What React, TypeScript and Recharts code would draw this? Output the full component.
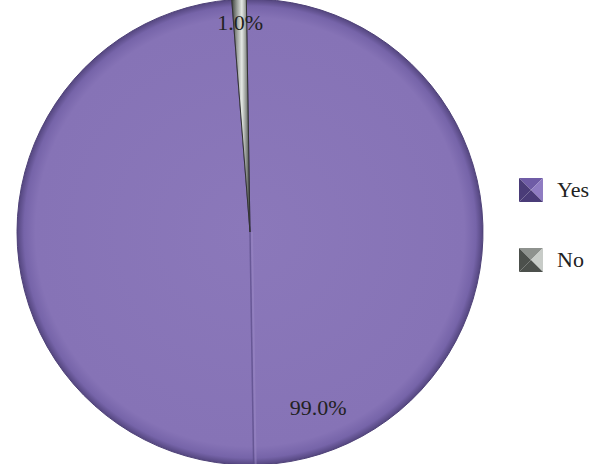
import { PieChart, Pie, Cell, Legend } from 'recharts'

const categories = ['Yes', 'No']
const shares = [99.0, 1.0]
const labels = ['99.0%', '1.0%']

const data = categories.map((name, i) => ({ name, value: shares[i], label: labels[i] }))

const FONT = '"Liberation Serif", "Times New Roman", serif'
const RAD = Math.PI / 180

function SliceLabel(props: any) {
  const { cx, cy, midAngle, outerRadius, startAngle, index } = props
  const d = data[index]
  if (d.name === 'Yes') {
    // label sits off to the right of the slice middle, like the original
    const a = (midAngle + 18.5) * RAD
    const r = outerRadius * 0.81
    const x = cx + r * Math.cos(a)
    const y = cy - r * Math.sin(a)
    // seam running through the pie (extension of the small slice edge)
    const s = (startAngle - 180) * RAD
    return (
      <g>
        <line
          x1={cx}
          y1={cy}
          x2={cx + outerRadius * Math.cos(s)}
          y2={cy - outerRadius * Math.sin(s)}
          stroke="#5a4b88"
          strokeWidth={1.5}
          strokeOpacity={0.7}
        />
        <line
          x1={cx + 2}
          y1={cy}
          x2={cx + 2 + outerRadius * Math.cos(s)}
          y2={cy - outerRadius * Math.sin(s)}
          stroke="#9b8ac6"
          strokeWidth={2}
          strokeOpacity={0.5}
        />
        <text x={x} y={y} textAnchor="middle" dominantBaseline="central" fontFamily={FONT} fontSize={22} fill="#222">
          {d.label}
        </text>
      </g>
    )
  }
  const a = midAngle * RAD
  const r = outerRadius * 0.9
  return (
    <text
      x={cx + r * Math.cos(a)}
      y={cy - r * Math.sin(a)}
      textAnchor="middle"
      dominantBaseline="central"
      fontFamily={FONT}
      fontSize={22}
      fill="#222"
    >
      {d.label}
    </text>
  )
}

function LegendIcon({ light, mid, dark }: { light: string; mid: string; dark: string }) {
  return (
    <svg width={24} height={24} style={{ display: 'block' }}>
      <polygon points="0,0 24,0 12,12" fill={mid} />
      <polygon points="24,0 24,24 12,12" fill={light} />
      <polygon points="0,24 24,24 12,12" fill={dark} />
      <polygon points="0,0 0,24 12,12" fill={dark} />
    </svg>
  )
}

const iconColors: Record<string, { light: string; mid: string; dark: string }> = {
  Yes: { light: '#8f7cc2', mid: '#6f5ca6', dark: '#4a3c78' },
  No: { light: '#c8ccc8', mid: '#8e928e', dark: '#4c504c' },
}

function LegendBox() {
  return (
    <div style={{ fontFamily: FONT, fontSize: 22, color: '#222' }}>
      {categories.map((c) => (
        <div key={c} style={{ display: 'flex', alignItems: 'center', height: 24, marginBottom: 46 }}>
          <LegendIcon {...iconColors[c]} />
          <span style={{ marginLeft: 14 }}>{c}</span>
        </div>
      ))}
    </div>
  )
}

export default function App() {
  return (
    <div style={{ position: 'absolute', left: 0, top: 0, width: 608, height: 464, background: '#fff' }}>
      <svg width={0} height={0} style={{ position: 'absolute' }}>
        <defs>
          <radialGradient id="gYes" gradientUnits="userSpaceOnUse" cx={250} cy={232} r={233}>
            <stop offset="0%" stopColor="#8b78ba" />
            <stop offset="92%" stopColor="#8673b6" />
            <stop offset="97%" stopColor="#7664a9" />
            <stop offset="100%" stopColor="#54467f" />
          </radialGradient>
          <linearGradient id="gNo" x1="0" y1="0" x2="1" y2="0">
            <stop offset="0%" stopColor="#3e423e" />
            <stop offset="30%" stopColor="#9ea29e" />
            <stop offset="55%" stopColor="#e4e8e4" />
            <stop offset="80%" stopColor="#8c908c" />
            <stop offset="100%" stopColor="#3a3e3a" />
          </linearGradient>
        </defs>
      </svg>
      <PieChart width={608} height={464} margin={{ top: 0, right: 0, bottom: 0, left: 0 }}>
        <Pie
          data={data}
          dataKey="value"
          nameKey="name"
          cx={250}
          cy={232}
          outerRadius={233}
          startAngle={90.9}
          endAngle={-269.1}
          stroke="#4f4278"
          strokeWidth={1}
          label={SliceLabel}
          labelLine={false}
          isAnimationActive={false}
        >
          <Cell fill="url(#gYes)" />
          <Cell fill="url(#gNo)" stroke="#333" />
        </Pie>
        <Legend
          layout="vertical"
          content={() => <LegendBox />}
          wrapperStyle={{ position: 'absolute', left: 519, top: 178, width: 90 }}
        />
      </PieChart>
    </div>
  )
}
